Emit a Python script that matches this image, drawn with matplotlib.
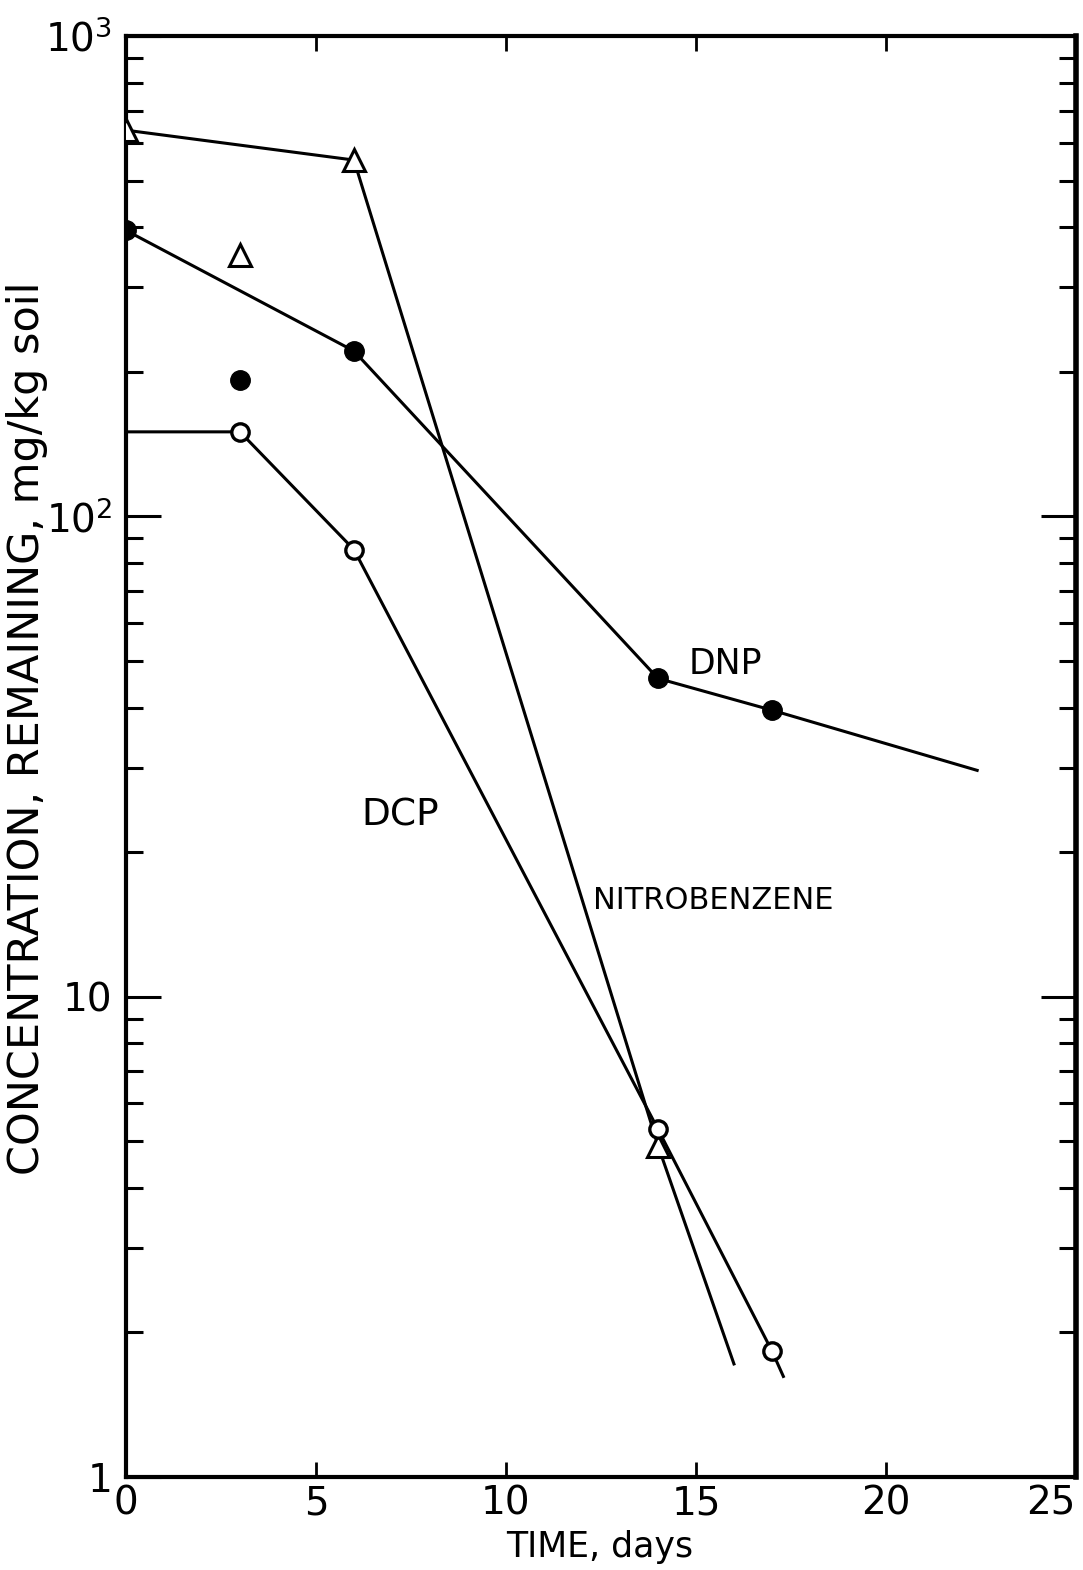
import matplotlib.pyplot as plt
from matplotlib.ticker import FixedLocator, LogLocator, NullFormatter

# Soil degradation data, concentration in mg/kg soil
nb_days = [0, 6, 14, 16]
nb_conc = [637, 552, 4.9, 1.72]
nb_marked_days = [0, 6, 14]
nb_marked_conc = [637, 552, 4.9]
nb_extra_day = [3]
nb_extra_conc = [350]

dnp_days = [0, 6, 14, 17, 22.4]
dnp_conc = [394, 221, 46, 39.5, 29.6]
dnp_marked_days = [0, 6, 14, 17]
dnp_marked_conc = [394, 221, 46, 39.5]
dnp_extra_day = [3]
dnp_extra_conc = [192]

dcp_days = [0, 3, 6, 14, 17, 17.3]
dcp_conc = [150, 150, 85.3, 5.3, 1.83, 1.62]
dcp_marked_days = [3, 6, 14, 17]
dcp_marked_conc = [150, 85.3, 5.3, 1.83]

x_ticks = [0, 5, 10, 15, 20, 25]
y_ticks = [1, 10, 100, 1000]
y_tick_labels = ['1', '10', '$10^2$', '$10^3$']

plt.rcParams['font.family'] = ['DejaVu Sans']
plt.rcParams['mathtext.fontset'] = 'dejavusans'

fig = plt.figure(figsize=(10.83, 15.70), dpi=100)
ax = fig.add_axes([0.1163, 0.0592, 0.8772, 0.9178])

lw = 2.2
ax.plot(nb_days, nb_conc, color='black', lw=lw)
ax.plot(dnp_days, dnp_conc, color='black', lw=lw)
ax.plot(dcp_days, dcp_conc, color='black', lw=lw)

tri = dict(marker='^', ms=16, mfc='white', mec='black', mew=2.2, ls='none', zorder=3)
ax.plot(nb_marked_days, nb_marked_conc, **tri)
ax.plot(nb_extra_day, nb_extra_conc, **tri)

dot = dict(marker='o', ms=14, mfc='black', mec='black', ls='none', zorder=3)
ax.plot(dnp_marked_days, dnp_marked_conc, **dot)
ax.plot(dnp_extra_day, dnp_extra_conc, **dot)

ring = dict(marker='o', ms=12.5, mfc='white', mec='black', mew=2.4, ls='none', zorder=3)
ax.plot(dcp_marked_days, dcp_marked_conc, **ring)

ax.set_yscale('log')
ax.set_xlim(0, 25)
ax.set_ylim(1, 1000)

ax.set_xticks(x_ticks)
ax.set_xticklabels([str(t) for t in x_ticks])
ax.get_xticklabels()[-1].set_horizontalalignment('right')
ax.yaxis.set_major_locator(FixedLocator(y_ticks))
ax.set_yticklabels(y_tick_labels)
ax.yaxis.set_minor_locator(LogLocator(base=10, subs=range(2, 10)))
ax.yaxis.set_minor_formatter(NullFormatter())

ax.tick_params(axis='x', which='major', direction='in', top=True, bottom=True,
               length=11, width=2, labelsize=28, pad=5)
ax.tick_params(axis='y', which='major', direction='in', left=True, right=True,
               length=25, width=2.2, labelsize=28, pad=10)
ax.tick_params(axis='y', which='minor', direction='in', left=True, right=True,
               length=12, width=2.2)

for side in ['left', 'top', 'bottom']:
    ax.spines[side].set_linewidth(3)
ax.spines['right'].set_linewidth(4)

ax.set_xlabel('TIME, days', fontsize=25)
ax.xaxis.set_label_coords(0.499, -0.037)
ax.set_ylabel('CONCENTRATION, REMAINING, mg/kg soil', fontsize=31)
ax.yaxis.set_label_coords(-0.082, 0.52)

ax.text(14.8, 49.4, 'DNP', fontsize=25, ha='left', va='center')
ax.text(6.2, 23.8, 'DCP', fontsize=27, ha='left', va='center')
ax.text(12.3, 15.85, 'NITROBENZENE', fontsize=22, ha='left', va='center')

fig.savefig('out.png', dpi=100)
